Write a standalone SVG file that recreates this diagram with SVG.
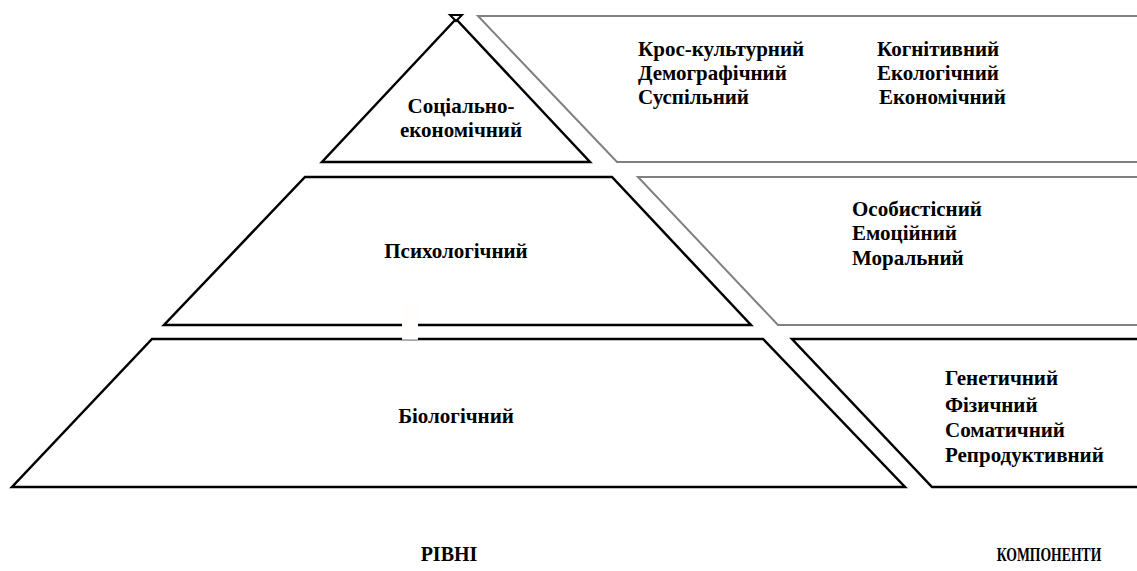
<svg xmlns="http://www.w3.org/2000/svg" width="1137" height="571" viewBox="0 0 1137 571">
<style>
.lvl{fill:#fff;stroke:#000;stroke-width:2.5;stroke-linejoin:miter}
.pg{fill:none;stroke:#808080;stroke-width:2}
.pb{fill:none;stroke:#000;stroke-width:2.5}
text{font-family:"Liberation Serif","Times New Roman",serif;font-weight:bold;font-size:21px;fill:#000}
.c{text-anchor:middle}
.cap{font-size:19px}
</style>
<rect width="1137" height="571" fill="#fff"/>
<g id="level-social">
<polygon class="lvl" points="456,19 590,162 322,162"/>
<polygon points="450,15 462,15 456,21" fill="#fff" stroke="#000" stroke-width="2"/>
<text class="c" x="461" y="113">Соціально-</text>
<text class="c" x="461" y="137">економічний</text>
</g>
<g id="level-psych">
<polygon class="lvl" points="305,177 612,177 751,325 164,325"/>
<text class="c" x="456" y="258">Психологічний</text>
</g>
<g id="level-bio">
<polygon class="lvl" points="152,339 763,339 905,487 12,487"/>
<text class="c" x="456" y="423">Біологічний</text>
</g>
<g id="gap">
<rect x="402" y="303" width="16" height="37" fill="#fffefc"/>
<line x1="402" y1="340" x2="418" y2="340" stroke="#a0a0a0" stroke-width="1.5"/>
</g>
<g id="comp-social">
<polyline class="pg" points="1137,16 478,16 617,162 1137,162"/>
<text x="638" y="56">Крос-культурний</text>
<text x="638" y="80">Демографічний</text>
<text x="638" y="104">Суспільний</text>
<text x="877" y="56">Когнітивний</text>
<text x="877" y="80">Екологічний</text>
<text x="879" y="104">Економічний</text>
</g>
<g id="comp-psych">
<polyline class="pg" points="1137,177 638,177 778,325 1137,325"/>
<text x="852" y="216">Особистісний</text>
<text x="852" y="240">Емоційний</text>
<text x="852" y="265">Моральний</text>
</g>
<g id="comp-bio">
<polyline class="pb" points="1137,339 792,339 932,487 1137,487"/>
<text x="945" y="385">Генетичний</text>
<text x="945" y="412">Фізичний</text>
<text x="945" y="437">Соматичний</text>
<text x="945" y="462">Репродуктивний</text>
</g>
<g id="labels">
<text class="cap c" x="449" y="561" style="font-size:20px">РІВНІ</text>
<text class="cap c" transform="translate(1049,561) scale(0.72,1)" x="0" y="0">КОМПОНЕНТИ</text>
</g>
<g id="connectors"/>
</svg>
